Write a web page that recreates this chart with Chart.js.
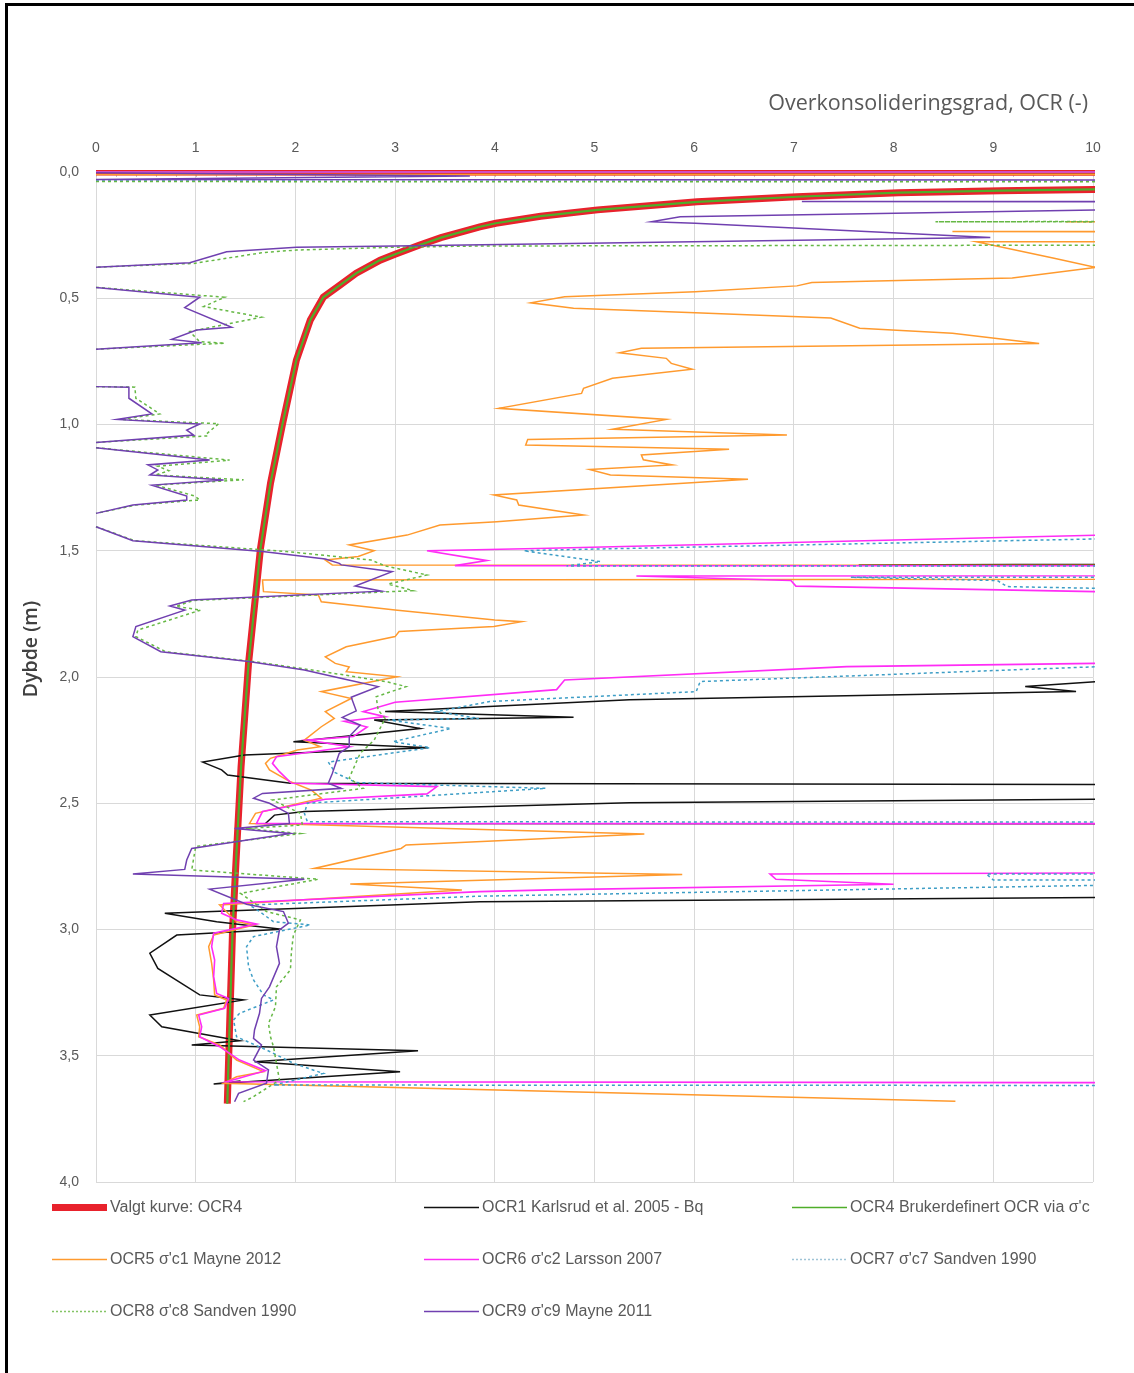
<!DOCTYPE html>
<html>
<head>
<meta charset="utf-8">
<script src="https://cdn.jsdelivr.net/npm/chart.js@4.4.0/dist/chart.umd.min.js"></script>
<style>
  html, body { margin: 0; padding: 0; background: #fff; }
  #wrap { position: relative; width: 1134px; height: 1373px; overflow: hidden; background: #fff; }
  #frame { position: absolute; left: 5px; top: 3px; width: 1200px; height: 1400px;
           border-top: 3px solid #000; border-left: 3px solid #000; }
  canvas { position: absolute; left: 0; top: 0; }
</style>
</head>
<body>
<div id="wrap">
  <div id="frame"></div>
  <canvas id="chart" width="1134" height="1373"></canvas>
</div>
<script>
// Overkonsolideringsgrad (OCR) mot dybde. Hvert punkt er [OCR, dybde i m].
// OCR-verdier over 10 ligger utenfor aksen og klippes ved plottkanten.
// [null, null] markerer et brudd i kurven (manglende verdi).

const xTicks = [0, 1, 2, 3, 4, 5, 6, 7, 8, 9, 10];
const depthTicks = [0, 0.5, 1.0, 1.5, 2.0, 2.5, 3.0, 3.5, 4.0];

const ocr4 = [
  [0, 0.0], [100, 0.008], [11.5, 0.06], [10.0, 0.069], [9.07, 0.074], [8.05, 0.082], [7.03, 0.098],
  [6.03, 0.118], [5.03, 0.15], [4.46, 0.175], [4.01, 0.203], [3.85, 0.217], [3.46, 0.26],
  [3.24, 0.29], [3.0, 0.326], [2.85, 0.349], [2.61, 0.401], [2.44, 0.45], [2.28, 0.496],
  [2.15, 0.586], [2.01, 0.745], [1.87, 1.0], [1.75, 1.233], [1.65, 1.49], [1.53, 1.946],
  [1.455, 2.355], [1.395, 2.8], [1.37, 3.0], [1.344, 3.33], [1.317, 3.69]
];

const ocr1 = [
  [60, 1.51], [7.65, 1.556], [60, 1.562], [60, 2.01], [10.06, 2.018], [9.32, 2.038], [9.83, 2.057],
  [5.35, 2.09], [2.90, 2.137], [4.79, 2.159], [2.79, 2.17], [3.25, 2.204], [1.98, 2.256],
  [3.33, 2.28], [1.49, 2.309], [1.07, 2.337], [1.26, 2.368], [1.32, 2.388], [1.95, 2.421],
  [60, 2.456], [60, 2.47], [10.06, 2.484], [5.35, 2.498], [2.09, 2.533], [1.79, 2.547],
  [1.70, 2.58], [60, 2.585], [60, 2.86], [10.06, 2.873], [3.85, 2.89], [0.69, 2.936],
  [1.21, 2.969], [1.86, 2.999], [0.81, 3.022], [0.54, 3.094], [0.62, 3.154], [1.04, 3.259],
  [1.48, 3.279], [0.54, 3.339], [0.66, 3.385], [1.44, 3.441], [0.96, 3.457], [3.23, 3.48],
  [1.59, 3.524], [3.05, 3.563], [1.18, 3.612], [1.45, 3.6]
];

const ocr5 = [
  [0, 0.01], [60, 0.012], [60, 0.19], [9.73, 0.197], [60, 0.203], [60, 0.228], [8.59, 0.236],
  [60, 0.244], [60, 0.27], [8.83, 0.276], [9.61, 0.342], [10.03, 0.378], [9.19, 0.42],
  [8.05, 0.43], [7.18, 0.438], [7.03, 0.451], [6.01, 0.474], [4.70, 0.494], [4.36, 0.518],
  [4.79, 0.54], [6.01, 0.557], [7.37, 0.578], [7.66, 0.619], [8.59, 0.639], [9.46, 0.679],
  [5.47, 0.698], [5.25, 0.716], [5.72, 0.738], [5.77, 0.758], [5.98, 0.781], [5.18, 0.817],
  [4.89, 0.857], [4.87, 0.877], [4.04, 0.936], [5.72, 0.98], [5.18, 1.019], [6.93, 1.042],
  [4.33, 1.059], [4.31, 1.081], [6.35, 1.098], [5.47, 1.121], [5.49, 1.14], [5.78, 1.16],
  [4.95, 1.178], [5.16, 1.2], [6.54, 1.217], [3.99, 1.279], [4.22, 1.299], [4.24, 1.319],
  [4.89, 1.358], [4.02, 1.385], [3.45, 1.398], [3.12, 1.438], [2.54, 1.477], [2.79, 1.5],
  [2.63, 1.523], [2.30, 1.537], [2.37, 1.556], [60, 1.565], [60, 1.592], [1.67, 1.616],
  [1.68, 1.662], [2.23, 1.675], [2.26, 1.702], [3.0, 1.735], [4.0, 1.774], [4.27, 1.781],
  [3.99, 1.8], [3.04, 1.82], [3.0, 1.84], [2.51, 1.88], [2.30, 1.92], [2.40, 1.946],
  [2.54, 1.96], [2.51, 1.979], [3.02, 1.999], [2.26, 2.058], [2.56, 2.085], [2.30, 2.137],
  [2.39, 2.164], [2.26, 2.197], [2.09, 2.25], [2.25, 2.276], [2.02, 2.289], [1.75, 2.322],
  [1.70, 2.342], [1.74, 2.368], [1.95, 2.415], [2.16, 2.448], [2.26, 2.48], [1.60, 2.54],
  [1.54, 2.58], [1.99, 2.583], [5.50, 2.622], [3.11, 2.665], [3.06, 2.679], [2.19, 2.758],
  [5.88, 2.782], [2.55, 2.82], [3.67, 2.844], [1.24, 2.903], [1.41, 2.969], [1.59, 2.982],
  [1.18, 3.022], [1.13, 3.068], [1.16, 3.134], [1.18, 3.2], [1.19, 3.259], [1.31, 3.279],
  [1.28, 3.312], [1.01, 3.339], [1.04, 3.385], [1.03, 3.425], [1.24, 3.457], [1.41, 3.517],
  [1.68, 3.563], [1.41, 3.583], [1.28, 3.609], [8.62, 3.68]
];

const ocr6 = [
  [0, 0.0], [60, 0.0], [60, 1.43], [10.06, 1.438], [4.55, 1.49], [3.32, 1.5], [3.92, 1.539],
  [3.60, 1.559], [60, 1.562], [60, 1.59], [5.42, 1.6], [6.97, 1.618], [7.02, 1.64],
  [10.06, 1.662], [60, 1.67], [60, 1.94], [10.06, 1.946], [7.53, 1.959], [4.70, 2.012],
  [4.62, 2.05], [3.0, 2.1], [2.68, 2.137], [2.90, 2.157], [2.49, 2.175], [2.72, 2.198],
  [2.58, 2.236], [2.12, 2.25], [2.54, 2.276], [1.81, 2.316], [1.77, 2.342], [1.84, 2.375],
  [1.96, 2.421], [3.42, 2.434], [3.32, 2.463], [2.30, 2.484], [1.67, 2.533], [1.61, 2.58],
  [60, 2.585], [60, 2.77], [10.06, 2.776], [6.76, 2.78], [6.82, 2.801], [8.0, 2.821],
  [4.55, 2.843], [3.85, 2.85], [1.28, 2.897], [1.26, 2.936], [1.41, 2.962], [1.61, 2.978],
  [1.18, 3.015], [1.16, 3.068], [1.19, 3.121], [1.18, 3.187], [1.21, 3.253], [1.33, 3.273],
  [1.29, 3.312], [1.03, 3.339], [1.06, 3.385], [1.04, 3.425], [1.24, 3.464], [1.44, 3.517],
  [1.70, 3.559], [1.31, 3.603], [60, 3.625]
];

const ocr7 = [
  [0, 0.036], [60, 0.04], [60, 1.44], [10.06, 1.453], [4.55, 1.497], [4.29, 1.5], [5.06, 1.543],
  [4.72, 1.56], [60, 1.563], [60, 1.598], [7.57, 1.605], [9.04, 1.618], [9.14, 1.642],
  [10.06, 1.649], [60, 1.655], [60, 1.95], [10.06, 1.959], [6.06, 2.018], [6.02, 2.058],
  [3.95, 2.097], [3.42, 2.137], [3.84, 2.164], [2.93, 2.17], [3.56, 2.204], [2.98, 2.256],
  [3.35, 2.28], [2.33, 2.337], [2.40, 2.379], [2.61, 2.418], [4.51, 2.441], [2.12, 2.50],
  [2.09, 2.54], [2.12, 2.573], [60, 2.585], [60, 2.77], [8.93, 2.78], [9.0, 2.804],
  [60, 2.81], [60, 2.82], [10.06, 2.825], [3.85, 2.868], [1.54, 2.903], [1.64, 2.929],
  [1.78, 2.969], [2.15, 2.982], [1.58, 3.028], [1.51, 3.068], [1.53, 3.147], [1.58, 3.2],
  [1.68, 3.259], [1.78, 3.279], [1.44, 3.332], [1.38, 3.358], [1.41, 3.425], [1.71, 3.477],
  [1.98, 3.53], [2.28, 3.57], [1.78, 3.616], [60, 3.628]
];

const ocr8 = [
  [0, 0.038], [60, 0.043], [60, 0.17], [8.42, 0.197], [60, 0.215], [60, 0.265], [3.85, 0.293],
  [3.0, 0.298], [2.01, 0.309], [1.66, 0.32], [0.98, 0.362], [0, 0.377], [null, null], [0, 0.457],
  [1.29, 0.496], [1.08, 0.533], [1.66, 0.575], [0.94, 0.632], [1.04, 0.672], [1.29, 0.678],
  [0, 0.702], [null, null], [0, 0.85], [0.39, 0.852], [0.40, 0.896], [0.64, 0.958], [0.25, 0.98],
  [1.23, 0.997], [1.11, 1.037], [1.12, 1.045], [0, 1.071], [null, null], [0, 1.092], [1.34, 1.141],
  [0.62, 1.165], [0.73, 1.183], [0.60, 1.2], [1.48, 1.219], [0.60, 1.24], [0.99, 1.283],
  [1.04, 1.299], [0.40, 1.319], [0, 1.352], [null, null], [0, 1.405], [0.39, 1.46], [1.91, 1.503],
  [2.76, 1.537], [2.90, 1.56], [3.32, 1.596], [2.93, 1.632], [3.18, 1.658], [0.98, 1.697],
  [0.80, 1.72], [1.05, 1.735], [0.42, 1.814], [0.40, 1.84], [0.70, 1.9], [1.60, 1.94],
  [2.30, 1.98], [2.93, 2.02], [3.11, 2.038], [2.81, 2.078], [2.83, 2.131], [2.90, 2.164],
  [2.79, 2.25], [2.65, 2.302], [2.54, 2.4], [2.68, 2.441], [1.77, 2.487], [2.05, 2.54],
  [2.07, 2.586], [1.50, 2.6], [2.05, 2.62], [1.0, 2.671], [0.96, 2.764], [2.23, 2.801],
  [1.45, 2.857], [1.71, 2.929], [2.05, 2.962], [1.98, 3.022], [1.96, 3.088], [1.95, 3.16],
  [1.81, 3.227], [1.80, 3.306], [1.73, 3.372], [1.75, 3.425], [1.78, 3.464], [1.84, 3.596],
  [1.58, 3.662], [1.48, 3.682]
];

const ocr9 = [
  [0, 0.003], [3.75, 0.016], [0, 0.03], [60, 0.04], [60, 0.11], [7.08, 0.117], [60, 0.125],
  [60, 0.148], [10.07, 0.15], [5.86, 0.177], [5.57, 0.197], [6.01, 0.203], [8.97, 0.259],
  [3.0, 0.293], [2.01, 0.298], [1.31, 0.316], [0.94, 0.359], [0, 0.377], [null, null], [0, 0.457],
  [1.04, 0.496], [0.89, 0.537], [1.36, 0.615], [1.01, 0.626], [0.76, 0.663], [1.06, 0.676],
  [0, 0.702], [null, null], [0, 0.85], [0.33, 0.852], [0.33, 0.896], [0.56, 0.958], [0.21, 0.98],
  [1.04, 0.998], [0.91, 1.022], [0.98, 1.042], [0, 1.071], [null, null], [0, 1.092], [1.14, 1.141],
  [0.52, 1.16], [0.62, 1.18], [0.54, 1.2], [1.28, 1.22], [0.56, 1.24], [0.91, 1.283],
  [0.91, 1.299], [0.37, 1.319], [0, 1.352], [null, null], [0, 1.405], [0.37, 1.46], [1.67, 1.503],
  [2.30, 1.533], [2.44, 1.55], [2.46, 1.556], [2.97, 1.583], [2.60, 1.64], [2.86, 1.66],
  [0.96, 1.695], [0.74, 1.719], [0.89, 1.735], [0.40, 1.8], [0.37, 1.84], [0.65, 1.9],
  [1.53, 1.939], [2.09, 1.972], [2.51, 2.01], [2.83, 2.038], [2.56, 2.08], [2.61, 2.134],
  [2.47, 2.16], [2.65, 2.19], [2.54, 2.236], [2.54, 2.276], [2.44, 2.302], [2.37, 2.382],
  [2.33, 2.421], [2.46, 2.441], [1.67, 2.461], [1.58, 2.48], [1.74, 2.50], [1.93, 2.54],
  [1.94, 2.58], [1.39, 2.6], [1.95, 2.62], [0.96, 2.679], [0.91, 2.725], [0.89, 2.762],
  [0.37, 2.78], [2.09, 2.801], [1.14, 2.84], [1.51, 2.9], [1.88, 2.929], [1.93, 2.975],
  [1.84, 3.002], [1.81, 3.068], [1.84, 3.134], [1.74, 3.227], [1.66, 3.273], [1.64, 3.332],
  [1.59, 3.398], [1.58, 3.431], [1.66, 3.457], [1.58, 3.517], [1.73, 3.556], [1.71, 3.609],
  [1.43, 3.649], [1.39, 3.682]
];

const toXY = pts => pts.map(p => ({ x: p[0], y: p[1] }));

function series(label, pts, color, width, order, dash) {
  return {
    label, data: toXY(pts), borderColor: color, backgroundColor: color,
    borderWidth: width, borderDash: dash || [], showLine: true, spanGaps: false,
    pointRadius: 0, pointHoverRadius: 0, tension: 0, fill: false, order, clip: 2
  };
}

const datasets = [
  series('Valgt kurve: OCR4', ocr4, '#e8222c', 7, 8),
  series('OCR1 Karlsrud et al. 2005 - Bq', ocr1, '#111111', 1.5, 7),
  series("OCR4 Brukerdefinert OCR via σ'c", ocr4, '#4fae2a', 2.2, 6),
  series("OCR5 σ'c1 Mayne 2012", ocr5, '#ff9a2e', 1.5, 5),
  series("OCR6 σ'c2 Larsson 2007", ocr6, '#ff2cf5', 1.6, 4),
  series("OCR7 σ'c7 Sandven 1990", ocr7, '#3e9ec6', 1.5, 3, [3, 3]),
  series("OCR8 σ'c8 Sandven 1990", ocr8, '#66b845', 1.5, 2, [3, 3]),
  series("OCR9 σ'c9 Mayne 2011", ocr9, '#7040b0', 1.5, 1)
];

const legendCols = [52, 424, 792];
const legendRows = [1207, 1259, 1311];
const legendSample = [
  { color: '#e8222c', width: 7, dash: [] },
  { color: '#111111', width: 1.5, dash: [] },
  { color: '#4fae2a', width: 1.5, dash: [] },
  { color: '#ff9a2e', width: 1.5, dash: [] },
  { color: '#ff2cf5', width: 1.5, dash: [] },
  { color: '#9fc4d6', width: 1.5, dash: [2, 2] },
  { color: '#84c466', width: 1.5, dash: [2, 2] },
  { color: '#7040b0', width: 1.5, dash: [] }
];

const textColor = '#595959';
const fontFamily = '"Liberation Sans", Arial, sans-serif';
const titleFamily = '"Open Sans", "Liberation Sans", sans-serif';

const overlay = {
  id: 'overlay',
  beforeDatasetsDraw(chart) {
    const ctx = chart.ctx, a = chart.chartArea, xs = chart.scales.x;
    ctx.save();
    ctx.strokeStyle = '#c8c8c8';
    ctx.lineWidth = 1;
    for (let i = 0; i <= 50; i++) {
      const px = Math.round(xs.getPixelForValue(i * 0.2)) + 0.5;
      ctx.beginPath();
      ctx.moveTo(px, a.top);
      ctx.lineTo(px, a.top + 5);
      ctx.stroke();
    }
    ctx.restore();
  },
  afterDraw(chart) {
    const ctx = chart.ctx;
    ctx.save();
    // axis titles
    ctx.fillStyle = textColor;
    ctx.font = '21.5px ' + titleFamily;
    ctx.textAlign = 'right';
    ctx.textBaseline = 'middle';
    ctx.fillText('Overkonsolideringsgrad, OCR (-)', 1088, 104);

    ctx.save();
    ctx.translate(31, 649);
    ctx.rotate(-Math.PI / 2);
    ctx.textAlign = 'center';
    ctx.fillStyle = '#404040';
    ctx.font = '600 19.5px ' + titleFamily;
    ctx.fillText('Dybde (m)', 0, 0);
    ctx.restore();

    // legend, three columns
    ctx.font = '16px ' + fontFamily;
    ctx.textAlign = 'left';
    ctx.textBaseline = 'middle';
    chart.data.datasets.forEach((ds, i) => {
      const col = legendCols[i % 3], row = legendRows[Math.floor(i / 3)];
      const s = legendSample[i];
      ctx.save();
      ctx.strokeStyle = s.color;
      ctx.lineWidth = s.width;
      ctx.setLineDash(s.dash);
      ctx.beginPath();
      ctx.moveTo(col, row + 0.5);
      ctx.lineTo(col + 55, row + 0.5);
      ctx.stroke();
      ctx.restore();
      ctx.fillStyle = textColor;
      ctx.fillText(ds.label, col + 58, row + 1);
    });
    ctx.restore();
  }
};

new Chart(document.getElementById('chart'), {
  type: 'scatter',
  data: { datasets },
  options: {
    responsive: false,
    animation: false,
    devicePixelRatio: 1,
    layout: { padding: { top: 0, left: 0, right: 41, bottom: 191 } },
    plugins: { legend: { display: false }, tooltip: { enabled: false } },
    events: [],
    scales: {
      x: {
        type: 'linear', position: 'top', min: 0, max: 10,
        afterBuildTicks: s => { s.ticks = xTicks.map(v => ({ value: v })); },
        afterFit: s => { s.height = 172; },
        grid: { color: '#d9d9d9', lineWidth: 1, drawTicks: false },
        border: { color: '#d9d9d9' },
        ticks: { color: textColor, font: { family: fontFamily, size: 14 }, padding: 15, maxRotation: 0 }
      },
      y: {
        type: 'linear', reverse: true, min: 0, max: 4,
        afterBuildTicks: s => { s.ticks = depthTicks.map(v => ({ value: v })); },
        afterFit: s => { s.width = 96; },
        grid: { color: '#d9d9d9', lineWidth: 1, drawTicks: false },
        border: { color: '#d9d9d9' },
        ticks: {
          color: textColor, font: { family: fontFamily, size: 14 }, padding: 17,
          callback: v => v.toFixed(1).replace('.', ',')
        }
      }
    }
  },
  plugins: [overlay]
});
</script>
</body>
</html>
